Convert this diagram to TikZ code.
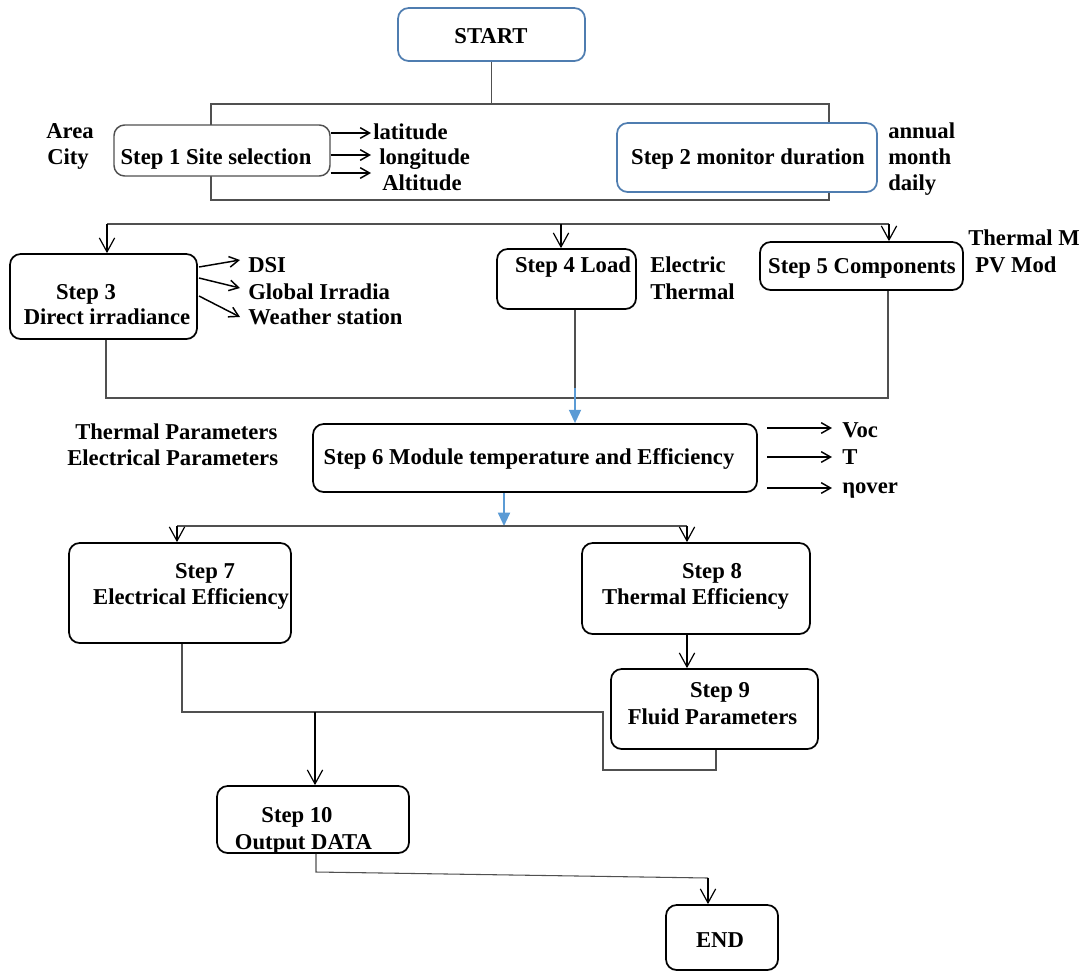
\documentclass[tikz,border=0pt]{standalone}
\usepackage{fontspec}
\setmainfont{Liberation Serif}
\usetikzlibrary{arrows.meta}
\definecolor{bblue}{HTML}{4F7DB0}
\definecolor{lblue}{HTML}{5B9BD5}
\definecolor{lgray}{HTML}{505050}
\begin{document}
\begin{tikzpicture}[x=0.75pt,y=-0.75pt,
  font=\fontsize{17}{20}\selectfont\bfseries,
  box/.style={draw=black, line width=1.3pt, rounded corners=8pt, fill=white, inner sep=0pt},
  bluebox/.style={box, draw=bblue, line width=1.3pt},
  graybox/.style={box, draw=lgray, line width=1.1pt},
  txt/.style={inner sep=0pt, text height=0.66em, text depth=0pt, yshift=-2.25pt},
  lt/.style={txt, anchor=west},
  con/.style={draw=lgray, line width=0.8pt},
  arr/.style={draw=black, line width=0.9pt, -{Straight Barb[length=10.5pt,width=11.5pt]}},
  sarr/.style={draw=black, line width=1.1pt, -{Straight Barb[length=7pt,width=8pt]}},
  barr/.style={draw=lblue, line width=1.4pt, -{Triangle[length=10pt,width=9pt]}},
]
\useasboundingbox (0,0) rectangle (1082,972);

% bracket behind step 1 and step 2
\coordinate (bTL) at (211,104);
\coordinate (bBR) at (829,200);
\draw[con] (bTL) rectangle (bBR);

% boxes
\node[bluebox, minimum width=140.25pt, minimum height=39.75pt] (start) at (491.5,34.5) {};
\node[graybox, minimum width=162pt, minimum height=38.25pt] (s1) at (222,150.5) {};
\node[bluebox, minimum width=195pt, minimum height=51.75pt] (s2) at (747,157.5) {};
\node[box, minimum width=140.25pt, minimum height=63.75pt] (s3) at (103.5,296.5) {};
\node[box, minimum width=104.25pt, minimum height=45pt] (s4) at (566.5,279) {};
\node[box, minimum width=152.25pt, minimum height=36pt] (s5) at (861.5,266) {};
\node[box, minimum width=333pt, minimum height=51pt] (s6) at (535,458) {};
\node[box, minimum width=166.5pt, minimum height=75pt] (s7) at (180,593) {};
\node[box, minimum width=171pt, minimum height=68.25pt] (s8) at (696,588.5) {};
\node[box, minimum width=155.25pt, minimum height=60pt] (s9) at (714.5,709) {};
\node[box, minimum width=144pt, minimum height=50.25pt] (s10) at (313,819.5) {};
\node[box, minimum width=84pt, minimum height=48.75pt] (end) at (722,937.5) {};

% box texts
\node[txt] (tstart) at (491,36) {START};
\node[txt] (t1) at (216,157) {Step 1 Site selection};
\node[txt] (t2) at (748,157) {Step 2 monitor duration};
\node[txt] (t3a) at (86,292) {Step 3};
\node[txt] (t3b) at (107,317) {Direct irradiance};
\node[txt] (t4) at (573,265) {Step 4 Load};
\node[txt] (t5) at (862,266) {Step 5 Components};
\node[txt] (t6) at (529,457) {Step 6 Module temperature and Efficiency};
\node[txt] (t7a) at (205,571) {Step 7};
\node[txt] (t7b) at (191,597) {Electrical Efficiency};
\node[txt] (t8a) at (712,571) {Step 8};
\node[txt] (t8b) at (695.5,597) {Thermal Efficiency};
\node[txt] (t9a) at (720,690) {Step 9};
\node[txt] (t9b) at (712.5,717) {Fluid Parameters};
\node[txt] (t10a) at (297,815) {Step 10};
\node[txt] (t10b) at (303.5,842) {Output DATA};
\node[txt] (tend) at (720,940) {END};

% side labels
\node[lt] (area) at (46,131) {Area};
\node[lt] (city) at (47,157) {City};
\node[lt] (lat) at (373,132) {latitude};
\node[lt] (lon) at (379,157) {longitude};
\node[lt] (alt) at (382,183) {Altitude};
\node[lt] (ann) at (888,131) {annual};
\node[lt] (mon) at (888,157) {month};
\node[lt] (day) at (888,183) {daily};
\node[lt] (dsi) at (248,265) {DSI};
\node[lt] (glo) at (248,292) {Global Irradia};
\node[lt] (wea) at (248,317) {Weather station};
\node[lt] (ele) at (650,265) {Electric};
\node[lt] (the) at (650,292) {Thermal};
\node[lt] (thm) at (968,238) {Thermal M};
\node[lt] (pvm) at (975,265) {PV Mod};
\node[lt] (thp) at (75,432) {Thermal Parameters};
\node[lt] (elp) at (67,458) {Electrical Parameters};
\node[lt] (voc) at (842,430) {Voc};
\node[lt] (tt) at (842,457) {T};
\node[lt] (eta) at (842,486) {ηover};

% START to bracket
\draw[con] (start.south) -- (start.south |- bTL);

% step 1 arrows
\coordinate (a1) at (371,133);
\coordinate (a2) at (371,155);
\coordinate (a3) at (371,173);
\draw[sarr] (a1 -| s1.east) -- (a1);
\draw[sarr] (a2 -| s1.east) -- (a2);
\draw[sarr] (a3 -| s1.east) -- (a3);

% distribution line to steps 3,4,5
\coordinate (hL) at (107,224);
\coordinate (hR) at (889,224);
\coordinate (h4) at (561,224);
\draw[con] (hL) -- (hR);
\draw[arr] (hL) -- (hL |- s3.north);
\draw[arr] (h4) -- (h4 |- s4.north);
\draw[arr] (hR) -- (hR |- s5.north);

% step 3 arrows
\coordinate (o1) at (199,267); \coordinate (d1) at (240,260);
\coordinate (o2) at (199,278); \coordinate (d2) at (240,288);
\coordinate (o3) at (199,296); \coordinate (d3) at (240,317);
\draw[sarr] (o1) -- (d1);
\draw[sarr] (o2) -- (d2);
\draw[sarr] (o3) -- (d3);

% merge to step 6
\coordinate (c3b) at (106,398);
\coordinate (c4b) at (575,398);
\coordinate (c5b) at (888,398);
\draw[con] (c3b |- s3.south) -- (c3b) -- (c5b) -- (c5b |- s5.south);
\draw[con] (c4b |- s4.south) -- (c4b);
\coordinate (bl1) at (575,388);
\draw[barr] (bl1) -- (bl1 |- s6.north);

% step 6 arrows
\coordinate (v1) at (767,428); \coordinate (v1e) at (832,428);
\coordinate (v2) at (767,457); \coordinate (v2e) at (832,457);
\coordinate (v3) at (767,488); \coordinate (v3e) at (832,488);
\draw[sarr] (v1) -- (v1e);
\draw[sarr] (v2) -- (v2e);
\draw[sarr] (v3) -- (v3e);

% split to steps 7 and 8
\coordinate (bl2) at (504,526);
\draw[barr] (bl2 |- s6.south) -- (bl2);
\coordinate (sL) at (177,526);
\coordinate (sR) at (687,526);
\draw[con] (sL) -- (sR);
\draw[arr] (sL) -- (sL |- s7.north);
\draw[arr] (sR) -- (sR |- s8.north);

% step 8 to step 9
\coordinate (c8) at (687,600);
\draw[arr] (c8 |- s8.south) -- (c8 |- s9.north);

% merge to step 10
\coordinate (m1) at (182,712);
\coordinate (m2) at (603,712);
\coordinate (m3) at (603,770);
\coordinate (m4) at (716,770);
\draw[con] (m1 |- s7.south) -- (m1) -- (m2) -- (m3) -- (m4) -- (m4 |- s9.south);
\coordinate (m5) at (315,712);
\draw[arr] (m5) -- (m5 |- s10.north);

% step 10 to END
\coordinate (e1) at (316,872);
\coordinate (e2) at (708,878);
\draw[con] (e1 |- s10.south) -- (e1) -- (e2);
\draw[arr] (e2) -- (e2 |- end.north);
\end{tikzpicture}
\end{document}
